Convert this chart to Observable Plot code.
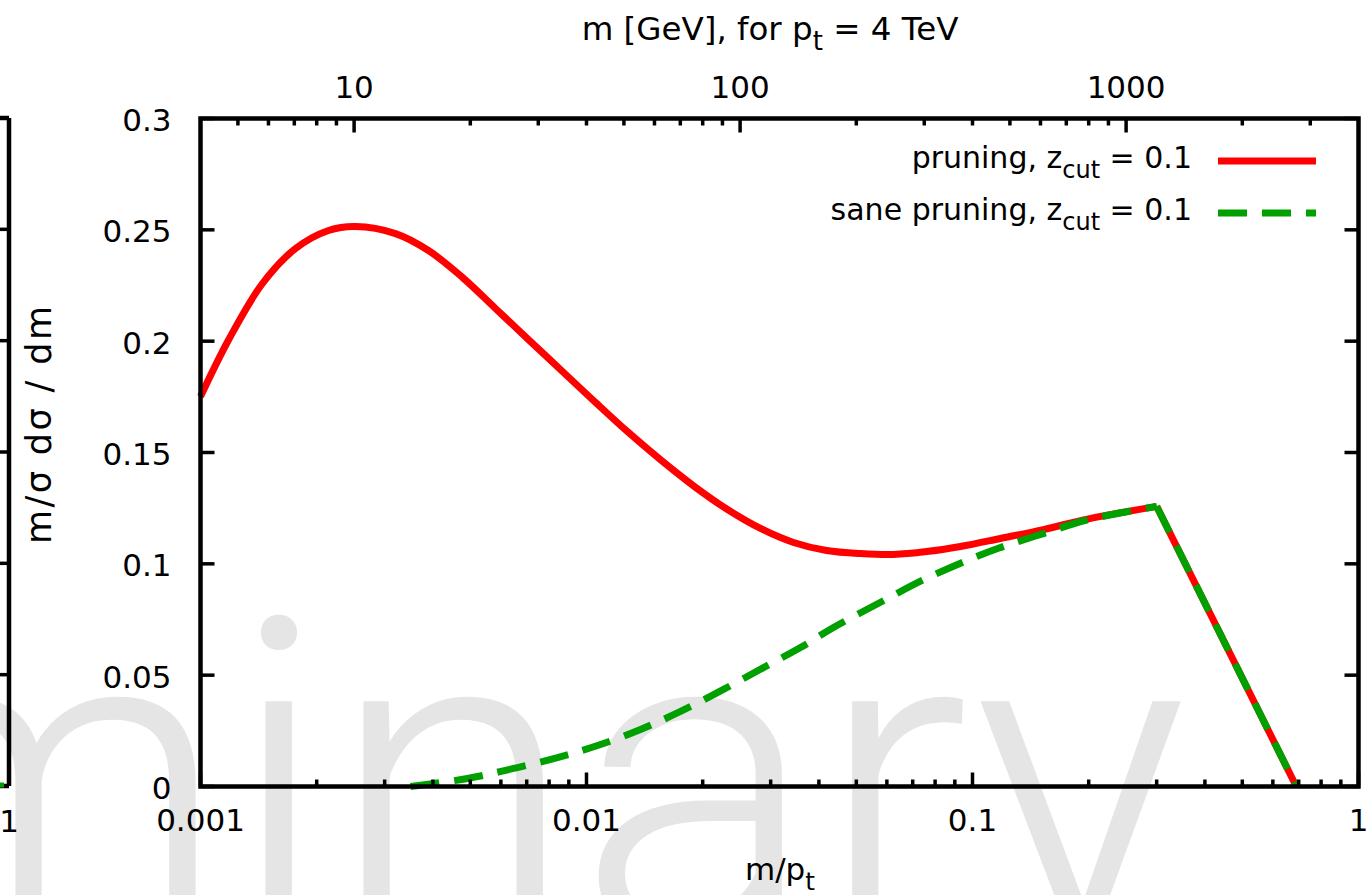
<!DOCTYPE html>
<html>
<head>
<meta charset="utf-8">
<script src="https://cdn.jsdelivr.net/npm/d3@7"></script>
<script src="https://cdn.jsdelivr.net/npm/@observablehq/plot@0.6"></script>
<style>
  html, body { margin: 0; padding: 0; background: #fff; }
  #chart { width: 1372px; height: 895px; overflow: hidden; position: relative; }
  #chart text, #chart tspan { white-space: pre; }
</style>
</head>
<body>
<div id="chart"></div>
<script>
// ---- data ----
const pruningX = [0.001, 0.00118, 0.001447, 0.001763, 0.002146, 0.002521, 0.0032, 0.003896, 0.004773, 0.005809, 0.007073, 0.008666, 0.01055, 0.01284, 0.01564, 0.01905, 0.02319, 0.02824, 0.03439, 0.04187, 0.05128, 0.06243, 0.07601, 0.09309, 0.1181, 0.1527, 0.1986, 0.3, 0.69];
const pruningY = [0.1751, 0.2003, 0.2259, 0.2416, 0.2497, 0.2515, 0.2483, 0.2407, 0.2286, 0.2147, 0.2007, 0.1864, 0.1725, 0.1590, 0.1464, 0.1347, 0.1244, 0.1159, 0.1096, 0.1060, 0.1046, 0.1042, 0.1055, 0.1078, 0.1114, 0.1154, 0.1201, 0.1258, 0];
const saneX = [0.0035, 0.004917, 0.00647, 0.008412, 0.01068, 0.0138, 0.01752, 0.02264, 0.02874, 0.03584, 0.04364, 0.06023, 0.07334, 0.09309, 0.1181, 0.1527, 0.1986, 0.3, 0.69];
const saneY = [0, 0.0036, 0.0081, 0.013, 0.0184, 0.0256, 0.0337, 0.0436, 0.0534, 0.0624, 0.0714, 0.0844, 0.0922, 0.1003, 0.1073, 0.1136, 0.1198, 0.1258, 0];

const seriesNames = ["pruning, z", "sane pruning, z"];
const seriesSub = "cut";
const seriesSuffix = " = 0.1";
const seriesColors = ["#ff0000", "#00a000"];

const xMajorTicks = [0.001, 0.01, 0.1, 1];
const xMinorTicks = [0.002, 0.003, 0.004, 0.005, 0.006, 0.007, 0.008, 0.009,
                     0.02, 0.03, 0.04, 0.05, 0.06, 0.07, 0.08, 0.09,
                     0.2, 0.3, 0.4, 0.5, 0.6, 0.7, 0.8, 0.9];
const yTicks = [0, 0.05, 0.1, 0.15, 0.2, 0.25, 0.3];
const ptGeV = 4000;
const topMajorGeV = [10, 100, 1000];
const topMinorGeV = [5, 6, 7, 8, 9, 20, 30, 40, 50, 60, 70, 80, 90, 200, 300, 400, 500, 600, 700, 800, 900, 2000, 3000];

const xLabel = ["m/p", "t"];
const topLabel = ["m [GeV], for p", "t", " = 4 TeV"];
const yLabel = "m/σ dσ / dm";
const watermark = "minary";

// ---- build ----
const toRows = (xs, ys) => xs.map((x, i) => ({x, y: ys[i]}));
const pruning = toRows(pruningX, pruningY);
const sane = toRows(saneX, saneY);
const smooth = rows => rows.slice(0, -1);
const drop = rows => rows.slice(-2);

const tickShape = {draw(ctx, l) { ctx.moveTo(0, 0); ctx.lineTo(0, -l); }};
const tk = {shape: tickShape, anchor: "start", stroke: "black", strokeWidth: 3.5, strokeLinecap: "butt"};
const lineStyle = {x: "x", y: "y", strokeWidth: 7, strokeLinecap: "butt", strokeLinejoin: "miter"};
const dash = "29,15";

const FONT = "DejaVu Sans";
const FS = 31;

const chart = Plot.plot({
  width: 1372,
  height: 895,
  marginLeft: 200,
  marginRight: 14,
  marginTop: 118,
  marginBottom: 109,
  style: {fontFamily: FONT, fontSize: FS + "px", background: "white", overflow: "visible"},
  x: {type: "log", domain: [0.001, 1]},
  y: {domain: [0, 0.3]},
  marks: [
    Plot.line(smooth(pruning), {...lineStyle, stroke: seriesColors[0], curve: "catmull-rom"}),
    Plot.line(drop(pruning), {...lineStyle, stroke: seriesColors[0]}),
    Plot.line(smooth(sane), {...lineStyle, stroke: seriesColors[1], curve: "catmull-rom", strokeDasharray: dash}),
    Plot.line(drop(sane), {...lineStyle, stroke: seriesColors[1], strokeDasharray: dash}),
    Plot.vector(xMajorTicks, {x: d => d, frameAnchor: "bottom", rotate: 0, length: 14, ...tk}),
    Plot.vector(xMinorTicks, {x: d => d, frameAnchor: "bottom", rotate: 0, length: 7, ...tk}),
    Plot.vector(topMajorGeV, {x: d => d / ptGeV, frameAnchor: "top", rotate: 180, length: 14, ...tk}),
    Plot.vector(topMinorGeV, {x: d => d / ptGeV, frameAnchor: "top", rotate: 180, length: 7, ...tk}),
    Plot.vector(yTicks, {y: d => d, frameAnchor: "left", rotate: 90, length: 14, ...tk}),
    Plot.vector(yTicks, {y: d => d, frameAnchor: "right", rotate: -90, length: 14, ...tk}),
    Plot.frame({stroke: "black", strokeWidth: 4.5}),
    Plot.axisX(xMajorTicks, {anchor: "bottom", tickSize: 0, tickPadding: 22, tickFormat: d3.format("~g"), label: null, fill: "black"}),
    Plot.axisX(topMajorGeV.map(g => g / ptGeV), {anchor: "top", tickSize: 0, tickPadding: 21, tickFormat: d => String(Math.round(d * ptGeV)), label: null, fill: "black"}),
    Plot.axisY(yTicks, {anchor: "left", tickSize: 0, tickPadding: 29, dy: 2.5, tickFormat: d3.format("~g"), label: null, fill: "black"})
  ]
});
document.getElementById("chart").append(chart);

// ---- decorations: labels with subscripts, legend, watermark, partial neighbour panel ----
const svg = d3.select(chart);
const ys = v => chart.scale("y").apply(v);

// watermark behind everything
svg.insert("text", ":first-child")
  .attr("x", -171).attr("y", 939)
  .attr("text-anchor", "start")
  .attr("font-family", "Roboto").attr("font-weight", 300).attr("font-size", 450)
  .attr("fill", "#e5e5e5")
  .text(watermark);

function rich(parent, x, y, parts, anchor, subIdx, size) {
  const t = parent.append("text").attr("x", x).attr("y", y).attr("text-anchor", anchor)
    .attr("fill", "black").attr("font-size", size);
  parts.forEach((s, i) => {
    const ts = t.append("tspan").text(s);
    if (subIdx.includes(i)) ts.attr("font-size", size * 0.8).attr("dy", 10);
    else if (i > 0 && subIdx.includes(i - 1)) ts.attr("dy", -10);
  });
  return t;
}

const deco = svg.append("g").attr("font-family", FONT).attr("font-size", FS);

// top axis title and bottom axis label
rich(deco, 770, 40, topLabel, "middle", [1], 32.5);
rich(deco, 780, 880, xLabel, "middle", [1], FS);

// y label
deco.append("text")
  .attr("transform", "translate(51,425) rotate(-90)")
  .attr("text-anchor", "middle").attr("fill", "black")
  .attr("font-size", 35)
  .attr("textLength", 238).attr("lengthAdjust", "spacing")
  .text(yLabel);

// legend
const legY = [161, 213];
seriesNames.forEach((name, i) => {
  rich(deco, 1192, legY[i] + 7, [name, seriesSub, seriesSuffix], "end", [1], 30);
  const ln = deco.append("line")
    .attr("x1", 1218).attr("x2", 1316).attr("y1", legY[i]).attr("y2", legY[i])
    .attr("stroke", seriesColors[i]).attr("stroke-width", 7);
  if (i === 1) ln.attr("stroke-dasharray", dash);
});

// partial neighbouring panel at the far left (its right frame edge)
const nb = svg.append("g").attr("stroke", "black");
const edgeX = 9;
nb.append("line").attr("x1", edgeX).attr("x2", edgeX).attr("y1", ys(0.3)).attr("y2", ys(0)).attr("stroke-width", 4.5);
nb.append("line").attr("x1", -5).attr("x2", edgeX).attr("y1", ys(0.3)).attr("y2", ys(0.3)).attr("stroke-width", 4.5);
nb.append("line").attr("x1", -5).attr("x2", edgeX).attr("y1", ys(0)).attr("y2", ys(0)).attr("stroke-width", 4.5);
yTicks.forEach(v => {
  nb.append("line").attr("x1", edgeX).attr("x2", edgeX - 14).attr("y1", ys(v)).attr("y2", ys(v)).attr("stroke-width", 3.5);
});
nb.append("line").attr("x1", -6).attr("x2", 4).attr("y1", ys(0) - 1).attr("y2", ys(0) - 1)
  .attr("stroke", seriesColors[1]).attr("stroke-width", 5);
deco.append("text").attr("x", edgeX).attr("y", 832).attr("text-anchor", "middle").attr("fill", "black").text("1");
</script>
</body>
</html>
